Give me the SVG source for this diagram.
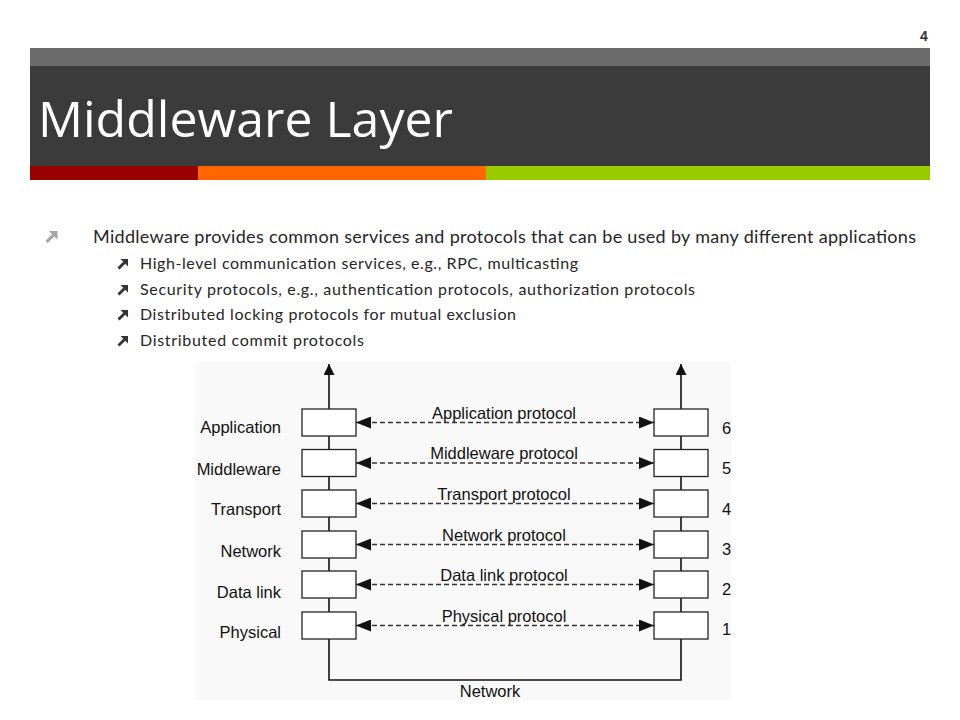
<svg xmlns="http://www.w3.org/2000/svg" width="960" height="720" viewBox="0 0 960 720">
<defs>
<style>
.title{font-family:"Open Sans","Liberation Sans",sans-serif;font-size:50px;fill:#ffffff;}
.b1{font-family:Lato,"Liberation Sans",sans-serif;font-size:18px;fill:#262626;}
.b2{font-family:Lato,"Liberation Sans",sans-serif;font-size:16px;fill:#262626;}
.lbl{font-family:"Liberation Sans",Arial,sans-serif;font-size:16.5px;fill:#111111;}
.box{fill:#ffffff;stroke:#222222;stroke-width:1.3;}
.ln{fill:none;stroke:#111111;stroke-width:1.6;}
.dash{fill:none;stroke:#333333;stroke-width:1.3;stroke-dasharray:5 3;}
</style>
<marker id="ah" viewBox="0 0 15 12" refX="15" refY="6" markerWidth="15" markerHeight="12" markerUnits="userSpaceOnUse" orient="auto-start-reverse">
<path d="M0,0 L15,6 L0,12 z" fill="#111111"/>
</marker>
<marker id="up" viewBox="0 0 11 11" refX="11" refY="5.5" markerWidth="11" markerHeight="11" markerUnits="userSpaceOnUse" orient="auto">
<path d="M0,0 L11,5.5 L0,11 z" fill="#111111"/>
</marker>
<g id="bul">
<path d="M0.5,9.5 L6.5,3.5" stroke-width="2.8" stroke-linecap="butt"/>
<path d="M2.5,0 L10,0 L10,7.5 z" stroke="none"/>
</g>
</defs>
<rect width="960" height="720" fill="#ffffff"/>
<g id="header">
<rect x="30" y="48" width="900" height="18" fill="#6b6b6b"/>
<rect x="30" y="66" width="900" height="100" fill="#3b3b3b"/>
<rect x="30" y="166" width="168" height="14" fill="#990000"/>
<rect x="198" y="166" width="288" height="14" fill="#ff6600"/>
<rect x="486" y="166" width="444" height="14" fill="#99cc00"/>
<text class="title" x="38" y="137">Middleware Layer</text>
<text x="924" y="41" font-family="Liberation Sans,Arial,sans-serif" font-size="14" font-weight="bold" fill="#333333" text-anchor="middle">4</text>
</g>
<g id="bullets">
<use href="#bul" transform="translate(46,231) scale(1.15)" fill="#a6a6a6" stroke="#a6a6a6"/>
<text class="b1" x="93" y="243" textLength="823" lengthAdjust="spacing">Middleware provides common services and protocols that can be used by many different applications</text>
<use href="#bul" x="118" y="259" fill="#333333" stroke="#333333"/>
<text class="b2" x="140" y="269" textLength="438" lengthAdjust="spacing">High-level communication services, e.g., RPC, multicasting</text>
<use href="#bul" x="118" y="285" fill="#333333" stroke="#333333"/>
<text class="b2" x="140" y="295" textLength="555" lengthAdjust="spacing">Security protocols, e.g., authentication protocols, authorization protocols</text>
<use href="#bul" x="118" y="310" fill="#333333" stroke="#333333"/>
<text class="b2" x="140" y="320" textLength="376" lengthAdjust="spacing">Distributed locking protocols for mutual exclusion</text>
<use href="#bul" x="118" y="336" fill="#333333" stroke="#333333"/>
<text class="b2" x="140" y="346" textLength="224" lengthAdjust="spacing">Distributed commit protocols</text>
</g>
<rect id="figure-bg" x="195" y="362" width="536" height="338" fill="#f9f9f9"/>
<g id="connectors">
<path class="ln" d="M329,409 L329,364" marker-end="url(#up)"/>
<path class="ln" d="M681,409 L681,364" marker-end="url(#up)"/>
<path class="ln" d="M329,436 V449.5 M329,476.5 V490 M329,517 V531 M329,558 V571 M329,598 V612"/>
<path class="ln" d="M681,436 V449.5 M681,476.5 V490 M681,517 V531 M681,558 V571 M681,598 V612"/>
<path class="ln" d="M329,639 L329,680 L681,680 L681,639"/>
<path class="dash" d="M356,422.5 L654,422.5" marker-start="url(#ah)" marker-end="url(#ah)"/>
<path class="dash" d="M356,463 L654,463" marker-start="url(#ah)" marker-end="url(#ah)"/>
<path class="dash" d="M356,503.5 L654,503.5" marker-start="url(#ah)" marker-end="url(#ah)"/>
<path class="dash" d="M356,544.5 L654,544.5" marker-start="url(#ah)" marker-end="url(#ah)"/>
<path class="dash" d="M356,584.5 L654,584.5" marker-start="url(#ah)" marker-end="url(#ah)"/>
<path class="dash" d="M356,625.5 L654,625.5" marker-start="url(#ah)" marker-end="url(#ah)"/>
<text class="lbl" x="504" y="419" text-anchor="middle">Application protocol</text>
<text class="lbl" x="504" y="459" text-anchor="middle">Middleware protocol</text>
<text class="lbl" x="504" y="500" text-anchor="middle">Transport protocol</text>
<text class="lbl" x="504" y="541" text-anchor="middle">Network protocol</text>
<text class="lbl" x="504" y="581" text-anchor="middle">Data link protocol</text>
<text class="lbl" x="504" y="622" text-anchor="middle">Physical protocol</text>
<text class="lbl" x="490" y="697" text-anchor="middle">Network</text>
</g>
<g id="layer-application">
<rect class="box" x="302" y="409" width="54" height="27"/>
<rect class="box" x="654" y="409" width="54" height="27"/>
<text class="lbl" x="281" y="433" text-anchor="end">Application</text>
<text class="lbl" x="722" y="434">6</text>
</g>
<g id="layer-middleware">
<rect class="box" x="302" y="449.5" width="54" height="27"/>
<rect class="box" x="654" y="449.5" width="54" height="27"/>
<text class="lbl" x="281" y="475" text-anchor="end">Middleware</text>
<text class="lbl" x="722" y="474">5</text>
</g>
<g id="layer-transport">
<rect class="box" x="302" y="490" width="54" height="27"/>
<rect class="box" x="654" y="490" width="54" height="27"/>
<text class="lbl" x="281" y="515" text-anchor="end">Transport</text>
<text class="lbl" x="722" y="515">4</text>
</g>
<g id="layer-network">
<rect class="box" x="302" y="531" width="54" height="27"/>
<rect class="box" x="654" y="531" width="54" height="27"/>
<text class="lbl" x="281" y="557" text-anchor="end">Network</text>
<text class="lbl" x="722" y="555">3</text>
</g>
<g id="layer-datalink">
<rect class="box" x="302" y="571" width="54" height="27"/>
<rect class="box" x="654" y="571" width="54" height="27"/>
<text class="lbl" x="281" y="598" text-anchor="end">Data link</text>
<text class="lbl" x="722" y="595">2</text>
</g>
<g id="layer-physical">
<rect class="box" x="302" y="612" width="54" height="27"/>
<rect class="box" x="654" y="612" width="54" height="27"/>
<text class="lbl" x="281" y="638" text-anchor="end">Physical</text>
<text class="lbl" x="722" y="635">1</text>
</g>
</svg>
